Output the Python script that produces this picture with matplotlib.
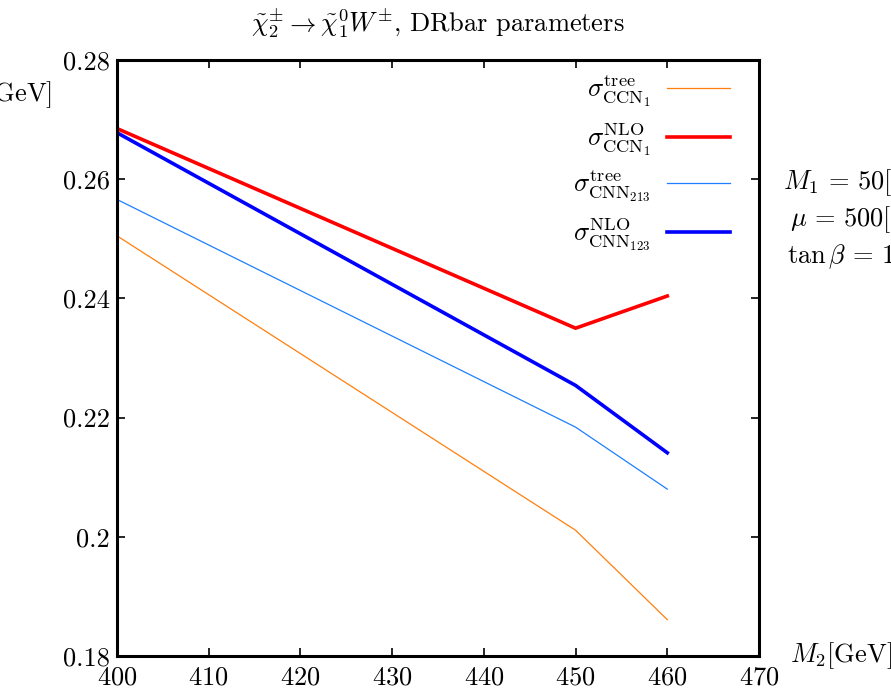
import matplotlib
matplotlib.use("Agg")
import matplotlib.pyplot as plt
from matplotlib.ticker import FuncFormatter, MultipleLocator

plt.rcParams['font.family'] = 'serif'
plt.rcParams['font.serif'] = ['cmr10', 'DejaVu Serif']
plt.rcParams['mathtext.fontset'] = 'cm'
plt.rcParams['axes.formatter.use_mathtext'] = True

# M2 values [GeV]
m2 = [400, 450, 460]

# widths
tree_ccn1 = [0.2505, 0.2011, 0.1861]
nlo_ccn1 = [0.2685, 0.2350, 0.2404]
tree_cnn213 = [0.2566, 0.2184, 0.2080]
nlo_cnn123 = [0.2678, 0.2254, 0.2141]

labels = [r'$\sigma^{\rm tree}_{\rm CCN_1}$',
          r'$\sigma^{\rm NLO}_{\rm CCN_1}$',
          r'$\sigma^{\rm tree}_{\rm CNN_{213}}$',
          r'$\sigma^{\rm NLO}_{\rm CNN_{123}}$']

FS = 19

fig = plt.figure(figsize=(8.91, 6.91), dpi=100)
ax = fig.add_axes([117 / 891, 35 / 691, 642 / 891, 596 / 691])

ax.plot(m2, tree_ccn1, color='#ff7f0e', lw=0.9, label=labels[0])
ax.plot(m2, nlo_ccn1, color='#ff0000', lw=2.6, label=labels[1])
ax.plot(m2, tree_cnn213, color='#1e7fff', lw=0.9, label=labels[2])
ax.plot(m2, nlo_cnn123, color='#0000ff', lw=2.6, label=labels[3])

ax.set_xlim(400, 470)
ax.set_ylim(0.18, 0.28)
ax.xaxis.set_major_locator(MultipleLocator(10))
ax.yaxis.set_major_locator(MultipleLocator(0.02))
ax.yaxis.set_major_formatter(FuncFormatter(lambda v, p: '%g' % round(v, 4)))
ax.tick_params(direction='in', length=6, width=1.2, top=True, right=True,
               labelsize=FS)
ax.tick_params(axis='x', pad=7)
ax.tick_params(axis='y', pad=5)
for sp in ax.spines.values():
    sp.set_linewidth(2.2)

ax.legend(loc='upper right', bbox_to_anchor=(0.955, 0.978), frameon=False,
          markerfirst=False, fontsize=FS, handlelength=2.4,
          labelspacing=0.42, handletextpad=0.6, borderpad=0, borderaxespad=0)

ax.set_title(r'$\tilde{\chi}_2^{\pm}\to\tilde{\chi}_1^0 W^{\pm}$, DRbar parameters',
             fontsize=FS, pad=20)

# side labels, partly cut by the figure edge like the original
fig.text(52 / 891, 1 - 95 / 691, r'$\Gamma$[GeV]', ha='right', va='center', fontsize=FS)
fig.text(790 / 891, 1 - 656 / 691, r'$M_2$[GeV]', ha='left', va='center', fontsize=FS)
fig.text(783 / 891, 1 - 183 / 691, r'$M_1\,=\,50$[GeV]', ha='left', va='center', fontsize=FS)
fig.text(790 / 891, 1 - 220 / 691, r'$\mu\,=\,500$[GeV]', ha='left', va='center', fontsize=FS)
fig.text(787 / 891, 1 - 257 / 691, r'$\tan\beta\,=\,10$', ha='left', va='center', fontsize=FS)

fig.savefig('out.png', dpi=100)
